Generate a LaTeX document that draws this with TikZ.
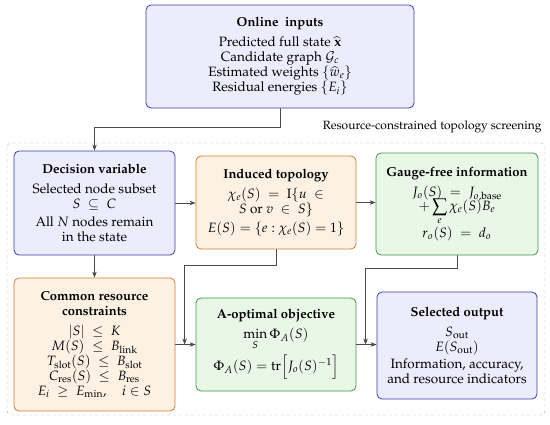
\documentclass[tikz,border=0pt]{standalone}
\usepackage{amsmath}
\usepackage{mathpazo}
\usepackage[T1]{fontenc}
\usetikzlibrary{arrows.meta}
\definecolor{bluefill}{HTML}{ECECFC}
\definecolor{bluedraw}{HTML}{3B3BA8}
\definecolor{orangefill}{HTML}{FDF1E3}
\definecolor{orangedraw}{HTML}{D27E2A}
\definecolor{greenfill}{HTML}{E8F7E6}
\definecolor{greendraw}{HTML}{3E9A3E}
\definecolor{linkgray}{HTML}{4A4A4A}
\definecolor{framegray}{HTML}{A8A8A8}
\newcommand*\titlefont{\fontsize{13}{15}\selectfont\bfseries}
\newcommand*\boxtitle[1]{{\titlefont #1}\\[5pt]}

\begin{document}
\begin{tikzpicture}[x=1pt,y=-1pt,line cap=round,
    box/.style={rectangle,rounded corners=5pt,thick,align=center,inner sep=2pt,
        font=\fontsize{13.5}{15}\selectfont},
    bluebox/.style={box,draw=bluedraw,fill=bluefill},
    orangebox/.style={box,draw=orangedraw,fill=orangefill},
    greenbox/.style={box,draw=greendraw,fill=greenfill},
    link/.style={draw=linkgray,semithick,-{Stealth[length=6pt,width=4.5pt]}}]
    \useasboundingbox (0,0) rectangle (550,424);
    % screening frame
    \draw[framegray,dashed,rounded corners=4pt] (7,143) rectangle (545,415);
    \node[anchor=east,font=\fontsize{12}{14}\selectfont] (framelabel) at (545,127) {Resource-constrained topology screening};
    % boxes
    \node[bluebox,minimum width=268pt,minimum height=103pt] (inputs) at (280,56.5)
        {\boxtitle{Online\ \ inputs}Predicted full state $\widehat{\mathbf{x}}$\\
         Candidate graph $\mathcal{G}_c$\\ Estimated weights $\{\widehat{w}_e\}$\\
         Residual energies $\{E_i\}$};
    \node[bluebox,minimum width=161pt,minimum height=104pt] (decision) at (94.5,203)
        {\boxtitle{Decision variable}Selected node subset\\ $S\;\subseteq\;C$\\[3pt]
         All $N$ nodes remain\\ in the state};
    \node[orangebox,minimum width=160pt,minimum height=93pt] (induced) at (276,202.5)
        {\boxtitle{Induced topology}$\chi_e(S)\;=\;\mathrm{I}\{u\;\in$\\
         $S$ or $v\;\in\;S\}$\\[4pt] $E(S)=\{e:\chi_e(S)=1\}$};
    \node[greenbox,minimum width=162pt,minimum height=102pt] (gauge) at (457,204)
        {\boxtitle{Gauge-free information}$J_o(S)\;=\;J_{o,\mathrm{base}}$\\[-3pt]
         $\displaystyle+\sum_e\chi_e(S)B_e$\\[1pt] $r_o(S)\;=\;d_o$};
    \node[orangebox,minimum width=161pt,minimum height=133pt] (common) at (94.5,344.5)
        {{\titlefont Common resource}\\ \boxtitle{constraints}$|S|\;\le\;K$\\
         $M(S)\;\le\;B_{\mathrm{link}}$\\ $T_{\mathrm{slot}}(S)\;\le\;B_{\mathrm{slot}}$\\
         $C_{\mathrm{res}}(S)\;\le\;B_{\mathrm{res}}$\\ $E_i\;\ge\;E_{\min},\quad i\in S$};
    \node[greenbox,minimum width=160pt,minimum height=93pt] (aopt) at (276,344.5)
        {\boxtitle{A-optimal objective}$\displaystyle\min_S\Phi_A(S)$\\[4pt]
         $\Phi_A(S)=\mathrm{tr}\Big[J_o(S)^{-1}\Big]$};
    \node[bluebox,minimum width=160pt,minimum height=107pt] (output) at (457,345.5)
        {\boxtitle{Selected output}$S_{\mathrm{out}}$\\ $E(S_{\mathrm{out}})$\\[2pt]
         Information, accuracy,\\ and resource indicators};
    % merge points in front of the objective and the output
    \coordinate (mergeL) at ([xshift=-11pt]aopt.west);
    \coordinate (mergeR) at ([xshift=-11pt]output.west |- aopt.west);
    % connectors
    \draw[link] (inputs.south) -- ++(0,19) -| (decision.north);
    \draw[link] (decision.east) -- (decision.east -| induced.west);
    \draw[link] (induced.east) -- (induced.east -| gauge.west);
    \draw[link] (decision.south) -- (common.north);
    \draw[link] (common.east) -- (common.east -| aopt.west);
    \draw[link] (aopt.east) -- (aopt.east -| output.west);
    \draw[link] (induced.south) -- ++(0,16) -| (mergeL);
    \draw[link] (gauge.south) -- ++(0,13) -| (mergeR);
\end{tikzpicture}
\end{document}
